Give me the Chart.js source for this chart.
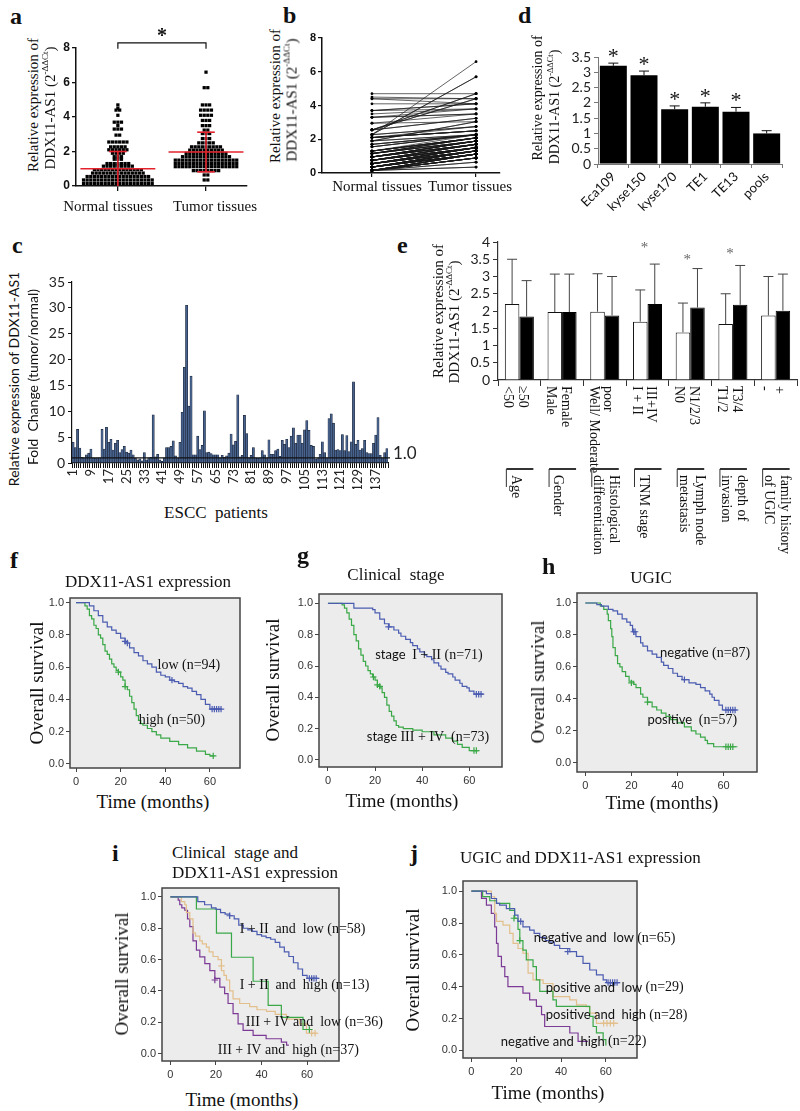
<!DOCTYPE html>
<html>
<head>
<meta charset="utf-8">
<script src="https://cdn.jsdelivr.net/npm/chart.js@4.4.1/dist/chart.umd.min.js"></script>
<style>
  body { margin: 0; background: #fff; }
  #page { position: relative; width: 800px; height: 1111px; overflow: hidden; background: #fff; }
  #page canvas { position: absolute; }
  .t { position: absolute; white-space: pre; line-height: 1; color: #111; }
  .t sup { font-size: 0.6em; line-height: 0; vertical-align: 0.75em; }
</style>
</head>
<body>
<div id="page"></div>
<script>
const SERIF = '"Liberation Serif", "Times New Roman", serif';
const ARIAL = '"Liberation Sans", Arial, sans-serif';
const CALIBRI = 'Lato, "Liberation Sans", sans-serif';

// ---- a / b : expression dot plot, rows as [value, count]
const normalRows = [[0.15,20],[0.35,20],[0.55,18],[0.75,15],[0.95,14],[1.15,9],[1.3,7],[1.55,3],[1.7,3],[1.9,4],
  [2.1,6],[2.27,5],[2.55,6],[2.95,2],[3.3,3],[3.5,1],[3.7,3],[4.1,1],[4.4,2],[4.5,1],[4.7,1]];
const tumorRows = [[0.35,2],[0.64,2],[0.89,8],[1.12,18],[1.31,18],[1.5,18],[1.7,14],[1.89,12],[2.08,10],[2.27,9],
  [2.5,5],[2.75,3],[3.04,3],[3.24,2],[3.5,3],[3.8,3],[4.1,4],[4.4,4],[4.7,3],[5.7,2],[6.6,1]];
// the same tumour values, listed in the order they join the (sorted) normal values in b
const bTumorRows = [[0.35,2],[0.64,2],[0.89,8],[1.12,18],[1.31,10],[1.31,8],[1.5,18],[1.7,14],[1.89,7],
  [1.89,5],[2.08,10],[2.27,9],[3.04,2],[2.5,5],[2.75,3],[6.6,1],[5.7,2],[4.7,2],[4.4,2],[3.24,2],
  [3.04,1],[3.5,3],[3.8,3],[4.1,4],[4.4,2],[4.7,1]];
const tissueNames = ['Normal tissues', 'Tumor tissues'];
const tissueMeans = [1.0, 1.97];
const tissueSD = [1.0, 1.15];

// ---- c : fold change per patient
const cValues = [4.0,3.0,6.5,2.9,1.1,1.0,1.6,1.9,2.7,1.0,0.9,1.0,
  1.0,6.5,2.7,6.9,4.0,4.6,2.5,3.8,4.4,2.0,2.6,3.2,
  2.1,1.9,2.5,1.6,0.9,0.6,0.8,0.4,2.0,0.6,1.0,1.1,
  9.3,1.2,1.7,0.6,0.3,1.0,3.0,3.0,3.2,4.3,1.4,1.0,
  4.0,9.8,18.5,30.5,11.0,16.8,1.6,1.6,5.2,2.6,3.4,10.1,
  2.0,2.1,1.8,1.6,1.6,1.6,1.0,1.5,1.1,1.4,1.9,5.6,
  3.5,4.2,13.2,1.2,1.5,9.2,5.7,1.0,1.5,3.0,1.0,0.9,
  1.0,2.4,1.6,1.0,4.5,1.7,1.7,2.4,2.7,1.3,4.4,3.6,
  4.6,3.0,5.2,6.8,3.8,5.4,5.4,3.8,6.4,8.2,6.3,3.4,
  3.2,0.8,1.0,1.7,4.1,2.0,1.0,8.6,9.5,7.7,2.5,2.6,
  2.4,5.5,2.4,5.3,2.2,4.1,15.7,3.6,4.4,2.5,2.8,4.4,
  2.0,1.8,1.8,3.8,5.4,8.8,1.5,1.0,2.0,2.8];
const cLabels = cValues.map((_, i) => String(i + 1));
const cBaseline = 1.0;

// ---- d : cell lines
const dCells = ['Eca109', 'kyse150', 'kyse170', 'TE1', 'TE13', 'pools'];
const dMeans = [3.21, 2.9, 1.79, 1.87, 1.71, 1.0];
const dErr = [0.09, 0.14, 0.11, 0.13, 0.14, 0.09];
const dSignif = [true, true, true, true, true, false];

// ---- e : clinical subgroups
const eGroups = ['Age', 'Gender', 'Histological\ndifferentiation', 'TNM stage', 'Lymph node\nmetastasis', 'depth of\ninvasion', 'family history\nof UGIC'];
const eLowLabels = ['<50', 'Male', 'Well/ Moderate', 'I + II', 'N0', 'T1/2', '-'];
const eHighLabels = ['\u226550', 'Female', 'poor', 'III+IV', 'N1/2/3', 'T3/4', '+'];
const eLow = [2.2, 1.97, 1.98, 1.69, 1.38, 1.62, 1.87];
const eLowSD = [1.3, 1.1, 1.1, 0.92, 0.85, 0.88, 1.13];
const eHigh = [1.84, 1.97, 1.87, 2.2, 2.1, 2.18, 2.01];
const eHighSD = [1.04, 1.1, 1.13, 1.16, 1.13, 1.14, 1.06];
const eStars = [null, null, null, 3.9, 3.55, 3.73, null];

// ---- f-j : Kaplan-Meier curves (event month, survival after it)
const monthTicks = [0, 20, 40, 60];
const survTicks = [0, 0.2, 0.4, 0.6, 0.8, 1.0];
const BLUE = '#4b5cb1', GREEN = '#3aa847', TAN = '#e2bf8b', PURPLE = '#7b3a95';

const fLow = { color: BLUE,
  t: [0,6,8,10,12,14,16,18,20,22,24,26,28,30,32,34,36,38,40,42,44,46,48,50,52,54,56,58,60,65],
  s: [1,0.98,0.95,0.92,0.88,0.85,0.83,0.81,0.78,0.75,0.72,0.69,0.67,0.64,0.62,0.6,0.57,0.55,0.54,0.52,0.51,0.5,0.48,0.47,0.45,0.43,0.4,0.37,0.34,0.34],
  cens: [[22,0.76],[23,0.75],[43,0.52],[61,0.34],[62,0.34],[63,0.34],[64,0.34],[65,0.34]] };
const fHigh = { color: GREEN,
  t: [0,4,5,6,7,8,9,10,11,12,13,14,15,16,17,18,19,20,21,22,23,24,25,26,27,28,29,30,32,34,36,38,42,46,50,54,58,60,62],
  s: [1,0.98,0.96,0.92,0.9,0.86,0.84,0.8,0.78,0.74,0.7,0.68,0.65,0.62,0.6,0.58,0.57,0.54,0.52,0.48,0.46,0.42,0.38,0.34,0.3,0.27,0.25,0.24,0.22,0.2,0.18,0.16,0.14,0.12,0.1,0.08,0.06,0.05,0.05],
  cens: [[19,0.57],[22,0.48],[61.5,0.05]] };

const gLow = { color: BLUE,
  t: [0,11,19,20,22,24,26,28,30,31,33,35,36,38,39,41,42,44,45,47,48,50,51,53,54,56,57,59,60,62,66],
  s: [1,0.97,0.96,0.94,0.9,0.87,0.85,0.83,0.81,0.79,0.77,0.75,0.73,0.71,0.69,0.67,0.66,0.64,0.62,0.6,0.58,0.56,0.55,0.53,0.51,0.49,0.47,0.46,0.44,0.42,0.42],
  cens: [[25.7,0.85],[63,0.42],[64,0.42],[65,0.42]] };
const gHigh = { color: GREEN,
  t: [0,6,7,8,9,10,11,12,13,14,15,16,17,18,19,20,21,22,23,24,25,26,27,28,29,30,32,36,40,45,50,53,55,57,60,64],
  s: [1,0.99,0.97,0.94,0.9,0.86,0.8,0.76,0.71,0.67,0.63,0.6,0.57,0.55,0.53,0.51,0.48,0.46,0.43,0.4,0.35,0.31,0.28,0.25,0.22,0.21,0.2,0.19,0.18,0.16,0.14,0.12,0.1,0.08,0.06,0.06],
  cens: [[19.3,0.53],[21,0.48],[22,0.47],[62,0.06],[63,0.06]] };

const hNeg = { color: BLUE,
  t: [0,5,7,10,12,14,16,18,19.5,20.5,22,24,25,27,29,31,33,34,36,38,40,42,45,48,50,52,54,55,56,58,59.5,66],
  s: [1,0.99,0.98,0.96,0.95,0.93,0.9,0.88,0.86,0.82,0.79,0.75,0.73,0.7,0.68,0.66,0.63,0.61,0.59,0.56,0.54,0.52,0.5,0.49,0.47,0.45,0.43,0.41,0.39,0.36,0.33,0.33],
  cens: [[21,0.82],[21.6,0.82],[43,0.52],[61,0.33],[62,0.33],[63,0.33],[64,0.33],[65,0.33]] };
const hPos = { color: GREEN,
  t: [0,6.5,8,9.5,10,11,11.5,12,13,14,15,16,17.5,19,21,22,24,25,27,29,31,33,35,37,40,43,46,48,50,52,53,55.7,66],
  s: [1,0.98,0.96,0.93,0.89,0.84,0.79,0.72,0.67,0.62,0.6,0.57,0.54,0.51,0.49,0.47,0.43,0.41,0.38,0.35,0.33,0.31,0.29,0.27,0.25,0.225,0.2,0.18,0.16,0.14,0.12,0.1,0.1],
  cens: [[20,0.5],[27,0.38],[61,0.1],[62,0.1],[63,0.1],[64,0.1]] };

const iLowEarly = { color: BLUE,
  t: [0,12,15,18,20,22,24,26,28,30,32,34,36,38,40,42,44,46,48,50,52,54,56,58,60,65],
  s: [1,0.97,0.95,0.93,0.92,0.9,0.89,0.88,0.86,0.82,0.8,0.79,0.78,0.76,0.75,0.74,0.73,0.71,0.68,0.65,0.62,0.58,0.54,0.5,0.48,0.48],
  cens: [[26,0.88],[61,0.48],[62,0.48],[63,0.48],[64,0.48]] };
const iHighEarly = { color: GREEN,
  t: [0,11.4,20.2,26.8,36.3,42.9,48.7,58.2,61],
  s: [1,0.923,0.769,0.615,0.462,0.308,0.231,0.154,0.154],
  cens: [[61,0.154]] };
const iLowLate = { color: TAN,
  t: [0,4.8,6.3,7,8.5,9.9,11,12.9,14,15.8,17,18.7,20.9,22.4,23.5,24.6,26,27.5,30.4,34.8,38,42.2,46,50.9,56.8,59.7,64.6],
  s: [1,0.97,0.95,0.9,0.86,0.77,0.75,0.72,0.7,0.68,0.65,0.62,0.6,0.53,0.5,0.47,0.4,0.35,0.32,0.3,0.28,0.27,0.25,0.22,0.19,0.13,0.13],
  cens: [[22.4,0.56],[62,0.13],[63.5,0.13]] };
const iHighLate = { color: PURPLE,
  t: [0,3.4,4.1,5,6.3,7.5,8.5,9.9,11.4,12.9,15.1,17.3,19.5,21.7,23.8,25.3,27.5,29.7,31.9,36.3,42,48.7,51,52],
  s: [1,0.98,0.95,0.93,0.915,0.86,0.81,0.72,0.66,0.617,0.574,0.53,0.48,0.425,0.383,0.32,0.255,0.19,0.149,0.117,0.095,0.074,0.054,0.054],
  cens: [[19.5,0.47]] };

const jNegLow = { color: BLUE,
  t: [0,6.7,8.9,11.2,12.6,15.6,19.3,20.8,23,26,28,30.5,33,35,37,39.4,43.9,46.9,49.8,52.8,55.8,58.8,60.3,66.2],
  s: [1,0.985,0.954,0.923,0.912,0.89,0.85,0.81,0.776,0.755,0.735,0.71,0.69,0.68,0.66,0.64,0.62,0.59,0.547,0.505,0.474,0.443,0.426,0.426],
  cens: [[22,0.81],[43,0.62],[61,0.426],[62,0.426],[63,0.426],[64,0.426],[65,0.426]] };
const jPosLow = { color: GREEN,
  t: [0,5,8.2,11.2,17.1,19.3,20.8,21.6,23,24.5,27.5,29,30.5,36.4,37.9,52.8,54.3,55.8,58.8,60],
  s: [1,0.966,0.94,0.923,0.88,0.83,0.76,0.69,0.63,0.568,0.526,0.443,0.37,0.317,0.276,0.213,0.15,0.11,0.067,0.03],
  cens: [[19,0.83],[21.6,0.69]] };
const jPosHigh = { color: TAN,
  t: [0,8.9,10.4,11.2,14.1,17.1,18.6,20.8,23,25.3,27.5,32,36.4,43.9,46.9,51.3,52.8,55.8,65.5],
  s: [1,0.965,0.86,0.81,0.787,0.735,0.672,0.64,0.61,0.485,0.443,0.42,0.338,0.317,0.286,0.275,0.234,0.17,0.17],
  cens: [[59,0.17],[60.5,0.17],[62,0.17],[63.5,0.17]] };
const jNegHigh = { color: PURPLE,
  t: [0,4.5,6.7,8.9,10.4,11.2,11.9,13.4,14.9,16.3,23,26,29,31.3,32.7,43.9,47.6,52],
  s: [1,0.955,0.912,0.86,0.776,0.672,0.59,0.526,0.463,0.4,0.36,0.317,0.276,0.224,0.15,0.109,0.056,0.056],
  cens: [] };

// curve labels, anchored in data units
const fNotes = [
  { m: 50.6, v: 0.614, align: 'center', parts: [['low (n=94)', 'serif']] },
  { m: 43, v: 0.27, align: 'center', parts: [['high (n=50)', 'serif']] },
];
const gNotes = [
  { m: 42.9, v: 0.67, align: 'center', parts: [['stage  ', 'sans'], ['I + II (n=71)', 'serif']] },
  { m: 42.5, v: 0.145, align: 'center', parts: [['stage ', 'sans'], ['III + IV  (n=73)', 'serif']] },
];
const hNotes = [
  { m: 52, v: 0.686, align: 'center', parts: [['negative ', 'sans'], ['(n=87)', 'serif']] },
  { m: 46.4, v: 0.267, align: 'center', parts: [['positive  ', 'sans'], ['(n=57)', 'serif']] },
];
const iNotes = [
  { m: 30.4, v: 0.793, parts: [['I + II  and  low (n=58)', 'serif']] },
  { m: 30.4, v: 0.436, parts: [['I + II  and  high (n=13)', 'serif']] },
  { m: 33.1, v: 0.2, parts: [['III + IV and  low (n=36)', 'serif']] },
  { m: 20.8, v: 0.021, parts: [['III + IV and  high (n=37)', 'serif']] },
];
const jNotes = [
  { m: 27.8, v: 0.706, parts: [['negative and  low ', 'sans'], ['(n=65)', 'serif']] },
  { m: 33.2, v: 0.393, parts: [['positive and  low ', 'sans'], ['(n=29)', 'serif']] },
  { m: 33.2, v: 0.223, parts: [['positive and  high ', 'sans'], ['(n=28)', 'serif']] },
  { m: 13.1, v: 0.054, parts: [['negative and  high ', 'sans'], ['(n=22)', 'serif']] },
];

// ------------------------------------------------------------------
const page = document.getElementById('page');
Chart.defaults.animation = false;
Chart.defaults.responsive = false;
Chart.defaults.devicePixelRatio = 1;
Chart.defaults.font.family = SERIF;
Chart.defaults.color = '#111';
Chart.defaults.plugins.legend.display = false;
Chart.defaults.plugins.tooltip.enabled = false;

function addText(html, x, y, o = {}) {
  const el = document.createElement('div');
  const size = o.size || 15;
  el.className = 't';
  el.innerHTML = html;
  el.style.font = `${o.weight || 'normal'} ${size}px ${o.family || SERIF}`;
  el.style.left = x + 'px';
  if (o.base) {
    el.style.top = (y - 0.84 * size) + 'px';
  } else {
    el.style.top = y + 'px';
    const ax = o.align === 'left' ? '0' : '-50%';
    el.style.transform = `translate(${ax}, -50%)` + (o.rot ? ` rotate(${o.rot}deg)` : '');
  }
  page.appendChild(el);
}

// canvas whose chart area is exactly the box l,t,r,b; pad = [left, top, right, bottom]
function panel(l, t, r, b, pad) {
  l = Math.round(l); t = Math.round(t); r = Math.round(r); b = Math.round(b);
  const c = document.createElement('canvas');
  const w = r - l + pad[0] + pad[2], h = b - t + pad[1] + pad[3];
  c.width = w; c.height = h;
  c.style.left = (l - pad[0]) + 'px';
  c.style.top = (t - pad[1]) + 'px';
  c.style.width = w + 'px';
  c.style.height = h + 'px';
  page.appendChild(c);
  return { canvas: c, layout: { padding: { left: 0, top: pad[1], right: pad[2], bottom: 0 } }, pad };
}
const fixX = h => s => { s.height = h; s.paddingLeft = s.paddingRight = s.paddingTop = s.paddingBottom = 0; };
const fixY = w => s => { s.width = w; s.paddingLeft = s.paddingRight = s.paddingTop = s.paddingBottom = 0; };
const setTicks = vals => s => { s.ticks = vals.map(v => ({ value: v })); };
const expand = rows => rows.flatMap(([v, n]) => Array(n).fill(v));
const plainNum = v => String(+v.toFixed(2));

function swarm(rows, cx, pitch) {
  const pts = [];
  rows.forEach(([v, n]) => {
    for (let i = 0; i < n; i++) pts.push({ x: cx + (i - (n - 1) / 2) * pitch, y: v });
  });
  return pts;
}

function drawLine(ctx, x1, y1, x2, y2) {
  ctx.beginPath(); ctx.moveTo(x1, y1); ctx.lineTo(x2, y2); ctx.stroke();
}

function star(ctx, x, y, size, color, bold) {
  ctx.save();
  ctx.fillStyle = color;
  ctx.font = `${bold ? 'bold ' : ''}${size}px ${SERIF}`;
  ctx.textAlign = 'center';
  ctx.textBaseline = 'middle';
  ctx.fillText('*', x, y + 0.18 * size);
  ctx.restore();
}

// ---------------- a ----------------
const aCenters = [1, 3];
const aBox = panel(76, 48, 247, 186, [32, 24, 6, 12]);
const aMarks = {
  id: 'aMarks',
  afterDatasetsDraw(chart) {
    const { ctx, scales: { x, y } } = chart;
    ctx.save();
    ctx.strokeStyle = '#e4222c';
    ctx.lineWidth = 1.6;
    aCenters.forEach((c, i) => {
      const m = tissueMeans[i], sd = tissueSD[i];
      const px = x.getPixelForValue(c);
      drawLine(ctx, x.getPixelForValue(c - 0.85), y.getPixelForValue(m), x.getPixelForValue(c + 0.85), y.getPixelForValue(m));
      const lo = Math.max(m - sd, 0);
      drawLine(ctx, px, y.getPixelForValue(lo), px, y.getPixelForValue(m + sd));
      drawLine(ctx, x.getPixelForValue(c - 0.2), y.getPixelForValue(m + sd), x.getPixelForValue(c + 0.2), y.getPixelForValue(m + sd));
      if (m - sd > 0) drawLine(ctx, x.getPixelForValue(c - 0.2), y.getPixelForValue(lo), x.getPixelForValue(c + 0.2), y.getPixelForValue(lo));
    });
    // significance bracket
    ctx.strokeStyle = '#111';
    ctx.lineWidth = 1.2;
    const yb = y.getPixelForValue(8.3), yt = y.getPixelForValue(7.95);
    const x1 = x.getPixelForValue(aCenters[0]), x2 = x.getPixelForValue(aCenters[1]);
    ctx.beginPath();
    ctx.moveTo(x1, yt); ctx.lineTo(x1, yb); ctx.lineTo(x2, yb); ctx.lineTo(x2, yt);
    ctx.stroke();
    ctx.restore();
    star(ctx, (x1 + x2) / 2, yb - 10, 20, '#111', true);
  }
};
new Chart(aBox.canvas, {
  type: 'scatter',
  data: {
    datasets: [normalRows, tumorRows].map((rows, i) => ({
      data: swarm(rows, aCenters[i], 0.082),
      pointStyle: 'rect', pointRadius: 2.3, backgroundColor: '#000', borderColor: '#000', borderWidth: 0,
    })),
  },
  options: {
    layout: aBox.layout,
    scales: {
      x: {
        type: 'linear', min: 0.05, max: 3.93,
        afterBuildTicks: setTicks(aCenters),
        afterFit: fixX(12),
        ticks: { display: false },
        grid: { drawOnChartArea: false, tickLength: 5, color: '#111', lineWidth: 1.3 },
        border: { color: '#111', width: 1.5 },
      },
      y: {
        min: 0, max: 8,
        afterFit: fixY(32),
        ticks: { stepSize: 2, font: { family: ARIAL, size: 12, weight: 'bold' }, color: '#111', padding: 2 },
        grid: { drawOnChartArea: false, tickLength: 4, color: '#111', lineWidth: 1.3 },
        border: { color: '#111', width: 1.5 },
      },
    },
  },
  plugins: [aMarks],
});

// ---------------- b ----------------
const bLeft = expand(normalRows), bRight = expand(bTumorRows);
const bData = bLeft.flatMap((v, i) => [{ x: 0, y: v }, { x: 1, y: bRight[i] }, { x: 0.5, y: null }]);
const bBox = panel(322, 38, 500, 173, [34, 6, 4, 10]);
new Chart(bBox.canvas, {
  type: 'line',
  data: {
    datasets: [{
      data: bData, spanGaps: false,
      borderColor: 'rgba(25,25,25,0.85)', borderWidth: 0.8,
      pointRadius: 1.4, pointBackgroundColor: '#000', pointBorderWidth: 0,
    }],
  },
  options: {
    layout: bBox.layout,
    scales: {
      x: {
        type: 'linear', min: -0.48, max: 1.23,
        afterBuildTicks: setTicks([0, 1]),
        afterFit: fixX(10),
        ticks: { display: false },
        grid: { drawOnChartArea: false, tickLength: 4, color: '#111', lineWidth: 1.2 },
        border: { color: '#111', width: 1.5 },
      },
      y: {
        min: 0, max: 8,
        afterFit: fixY(34),
        ticks: { stepSize: 2, font: { family: ARIAL, size: 11, weight: 'bold' }, color: '#111', padding: 2 },
        grid: { drawOnChartArea: false, tickLength: 4, color: '#111', lineWidth: 1.2 },
        border: { color: '#111', width: 1.5 },
      },
    },
  },
});

// ---------------- d ----------------
const dBox = panel(598, 57, 782, 164, [62, 30, 8, 52]);
const dExtras = {
  id: 'dExtras',
  afterDatasetsDraw(chart) {
    const { ctx, scales: { y } } = chart;
    ctx.save();
    ctx.strokeStyle = '#111';
    ctx.lineWidth = 1;
    chart.getDatasetMeta(0).data.forEach((bar, i) => {
      const top = y.getPixelForValue(dMeans[i] + dErr[i]);
      drawLine(ctx, bar.x, bar.y, bar.x, top);
      drawLine(ctx, bar.x - 5, top, bar.x + 5, top);
      if (dSignif[i]) star(ctx, bar.x, top - 10, 22, '#111', false);
    });
    ctx.restore();
  }
};
new Chart(dBox.canvas, {
  type: 'bar',
  data: { labels: dCells, datasets: [{ data: dMeans, backgroundColor: '#000', barPercentage: 0.88, categoryPercentage: 1 }] },
  options: {
    layout: dBox.layout,
    scales: {
      x: {
        afterFit: fixX(52),
        ticks: { minRotation: 45, maxRotation: 45, font: { family: CALIBRI, size: 13 }, color: '#111', padding: 1 },
        grid: { offset: true, drawOnChartArea: false, tickLength: 4, color: '#777' },
        border: { color: '#777' },
      },
      y: {
        min: 0, max: 3.5,
        afterFit: fixY(62),
        ticks: { stepSize: 0.5, autoSkip: false, callback: plainNum, font: { family: CALIBRI, size: 14 }, color: '#222', padding: 3 },
        grid: { drawOnChartArea: false, tickLength: 4, color: '#777' },
        border: { color: '#777' },
      },
    },
  },
  plugins: [dExtras],
});

// ---------------- c ----------------
const cBox = panel(72, 282, 388, 463, [40, 6, 34, 26]);
const cLine = {
  id: 'cLine',
  afterDatasetsDraw(chart) {
    const { ctx, chartArea, scales: { y } } = chart;
    const py = y.getPixelForValue(cBaseline);
    ctx.save();
    ctx.strokeStyle = '#111';
    ctx.lineWidth = 1.2;
    drawLine(ctx, chartArea.left, py, chartArea.right + 2, py);
    ctx.fillStyle = '#222';
    ctx.font = `17px ${CALIBRI}`;
    ctx.textBaseline = 'middle';
    ctx.fillText(cBaseline.toFixed(1), chartArea.right + 5, py - 4);
    ctx.restore();
  }
};
new Chart(cBox.canvas, {
  type: 'bar',
  data: {
    labels: cLabels,
    datasets: [{ data: cValues, backgroundColor: '#46628d', borderColor: '#1c2538', borderWidth: 0.6, barPercentage: 1, categoryPercentage: 1 }],
  },
  options: {
    layout: cBox.layout,
    scales: {
      x: {
        afterFit: fixX(26),
        ticks: { autoSkip: false, minRotation: 90, maxRotation: 90, callback: (v, i) => (i % 8 === 0 ? cLabels[i] : ''), font: { family: CALIBRI, size: 13 }, color: '#222', padding: 1 },
        grid: { offset: true, drawOnChartArea: false, tickLength: 5, color: '#111' },
        border: { color: '#111', width: 1.2 },
      },
      y: {
        min: 0, max: 35,
        afterFit: fixY(40),
        ticks: { stepSize: 5, autoSkip: false, font: { family: CALIBRI, size: 14 }, color: '#222', padding: 3 },
        grid: { drawOnChartArea: false, tickLength: 4, color: '#111' },
        border: { color: '#111', width: 1.2 },
      },
    },
  },
  plugins: [cLine],
});

// ---------------- e ----------------
const eBox = panel(498, 242, 797, 380, [60, 10, 3, 185]);
const eExtras = {
  id: 'eExtras',
  afterDatasetsDraw(chart) {
    const { ctx, chartArea, scales: { x, y } } = chart;
    ctx.save();
    ctx.strokeStyle = '#444';
    ctx.lineWidth = 1;
    [[eLow, eLowSD], [eHigh, eHighSD]].forEach(([vals, sds], di) => {
      chart.getDatasetMeta(di).data.forEach((bar, i) => {
        const top = y.getPixelForValue(vals[i] + sds[i]);
        drawLine(ctx, bar.x, bar.y, bar.x, top);
        drawLine(ctx, bar.x - 5, top, bar.x + 5, top);
      });
    });
    ctx.restore();
    eStars.forEach((v, i) => { if (v != null) star(ctx, x.getPixelForValue(i) - 3, y.getPixelForValue(v), 15, '#666', false); });

    // subgroup labels, read top to bottom
    ctx.save();
    ctx.fillStyle = '#111';
    ctx.font = `14px ${SERIF}`;
    ctx.textAlign = 'left';
    ctx.textBaseline = 'middle';
    const vtext = (txt, px, py) => { ctx.save(); ctx.translate(px, py); ctx.rotate(Math.PI / 2); ctx.fillText(txt, 0, 0); ctx.restore(); };
    [eLowLabels, eHighLabels].forEach((labels, di) => {
      chart.getDatasetMeta(di).data.forEach((bar, i) => vtext(labels[i], bar.x - 4, chartArea.bottom + 6));
    });
    // group rules and names
    const gy = chartArea.bottom + 89;
    ctx.strokeStyle = '#333';
    eGroups.forEach((name, i) => {
      const cx = x.getPixelForValue(i);
      ctx.lineWidth = 2;
      drawLine(ctx, cx - 13, gy, cx + 14, gy);
      ctx.lineWidth = 1;
      drawLine(ctx, cx - 13, gy, cx - 13, gy + 18);
      const lines = name.split('\n');
      lines.forEach((ln, k) => {
        const lx = lines.length === 1 ? cx - 4 : cx + 1 + ((lines.length - 1) / 2 - k) * 16;
        vtext(ln, lx, gy + 6);
      });
    });
    ctx.restore();
  }
};
new Chart(eBox.canvas, {
  type: 'bar',
  data: {
    labels: eGroups,
    datasets: [
      { data: eLow, backgroundColor: '#fff', borderColor: '#111', borderWidth: 1, barPercentage: 1, categoryPercentage: 0.68 },
      { data: eHigh, backgroundColor: '#000', borderColor: '#000', borderWidth: 1, barPercentage: 1, categoryPercentage: 0.68 },
    ],
  },
  options: {
    layout: eBox.layout,
    scales: {
      x: {
        afterFit: fixX(185),
        ticks: { display: false },
        grid: { offset: true, drawOnChartArea: false, tickLength: 6, color: '#333' },
        border: { color: '#333', width: 1.2 },
      },
      y: {
        min: 0, max: 4,
        afterFit: fixY(60),
        ticks: { stepSize: 0.5, autoSkip: false, callback: plainNum, font: { family: CALIBRI, size: 14 }, color: '#222', padding: 3 },
        grid: { drawOnChartArea: false, tickLength: 5, color: '#333' },
        border: { color: '#333', width: 1.2 },
      },
    },
  },
  plugins: [eExtras],
});

// ---------------- Kaplan-Meier panels ----------------
const kmFrame = {
  id: 'kmFrame',
  beforeDraw(chart) {
    const { ctx, chartArea: a } = chart;
    ctx.save();
    ctx.fillStyle = '#ececec';
    ctx.fillRect(a.left, a.top, a.width, a.height);
    ctx.restore();
  },
  afterDraw(chart) {
    const { ctx, chartArea: a } = chart;
    ctx.save();
    ctx.strokeStyle = '#444';
    ctx.lineWidth = 1.5;
    ctx.strokeRect(a.left, a.top, a.width, a.height);
    ctx.restore();
  }
};
function kmNotes(notes) {
  return {
    id: 'kmNotes',
    afterDraw(chart) {
      const { ctx, scales: { x, y } } = chart;
      ctx.save();
      ctx.fillStyle = '#111';
      ctx.textBaseline = 'middle';
      ctx.textAlign = 'left';
      notes.forEach(n => {
        const fonts = n.parts.map(([, fam]) => fam === 'sans' ? `13px ${CALIBRI}` : `14px ${SERIF}`);
        let w = 0;
        n.parts.forEach(([txt], k) => { ctx.font = fonts[k]; w += ctx.measureText(txt).width; });
        let px = x.getPixelForValue(n.m) - (n.align === 'center' ? w / 2 : 0);
        const py = y.getPixelForValue(n.v);
        n.parts.forEach(([txt], k) => { ctx.font = fonts[k]; ctx.fillText(txt, px, py); px += ctx.measureText(txt).width; });
      });
      ctx.restore();
    }
  };
}
function kmChart(box, xr, yr, curves, notes) {
  const p = panel(box[0], box[1], box[2], box[3], [34, 8, 160, 22]);
  const datasets = [];
  curves.forEach(c => {
    datasets.push({
      type: 'line', data: c.t.map((t, i) => ({ x: t, y: c.s[i] })), stepped: true,
      borderColor: c.color, borderWidth: 1.2, pointRadius: 0, fill: false,
    });
    datasets.push({
      type: 'scatter', data: c.cens.map(([t, s]) => ({ x: t, y: s })),
      pointStyle: 'cross', pointRadius: 3.2, borderColor: c.color, borderWidth: 1.2,
    });
  });
  new Chart(p.canvas, {
    type: 'scatter',
    data: { datasets },
    options: {
      layout: p.layout,
      scales: {
        x: {
          type: 'linear', min: xr[0], max: xr[1],
          afterBuildTicks: setTicks(monthTicks),
          afterFit: fixX(22),
          ticks: { font: { family: ARIAL, size: 11 }, color: '#333', padding: 3 },
          grid: { drawOnChartArea: false, tickLength: 4, color: '#444' },
          border: { display: false },
        },
        y: {
          min: yr[0], max: yr[1],
          afterBuildTicks: setTicks(survTicks),
          afterFit: fixY(34),
          ticks: { callback: v => v.toFixed(1), font: { family: ARIAL, size: 11 }, color: '#333', padding: 2 },
          grid: { drawOnChartArea: false, tickLength: 4, color: '#444' },
          border: { display: false },
        },
      },
    },
    plugins: [kmFrame, kmNotes(notes)],
  });
}
kmChart([70, 598, 240, 768], [-2.7, 73.5], [-0.025, 1.029], [fLow, fHigh], fNotes);
kmChart([319, 594, 502, 767], [-3.8, 73.9], [-0.045, 1.06], [gLow, gHigh], gNotes);
kmChart([577, 593, 757, 772], [-3.6, 74.5], [-0.058, 1.0625], [hNeg, hPos], hNotes);
kmChart([162, 888, 339, 1061], [-3.7, 74], [-0.047, 1.057], [iLowEarly, iHighEarly, iLowLate, iHighLate], iNotes);
kmChart([463, 881, 637, 1058], [-3.75, 73.9], [-0.048, 1.064], [jNegLow, jPosLow, jPosHigh, jNegHigh], jNotes);

// ---------------- text ----------------
[['a', 10, 23], ['b', 283, 22], ['d', 518, 22], ['c', 12, 252], ['e', 397, 252],
 ['f', 10, 567], ['g', 297, 562], ['h', 542, 573], ['i', 112, 860], ['j', 410, 860]]
  .forEach(([s, x, y]) => addText(s, x, y, { size: 24, weight: 'bold', base: true }));

// category names under the dot plots
addText(tissueNames[0], 108, 206, { size: 15 });
addText(tissueNames[1], 215, 206, { size: 15 });
addText(tissueNames[0], 377, 186, { size: 15 });
addText(tissueNames[1], 470, 186, { size: 15 });

const ddx = 'DDX11-AS1 (2<sup>-\u0394\u0394Ct</sup>)';
addText('Relative expression of', 33, 105, { rot: -90, size: 15 });
addText(ddx, 50, 108, { rot: -90, size: 15 });
addText('Relative expression of', 275, 96, { rot: -90, size: 15 });
addText(ddx, 292, 100, { rot: -90, size: 15 });
addText('Relative expression of', 538, 98, { rot: -90, size: 14 });
addText(ddx, 555, 107, { rot: -90, size: 14 });
addText('Relative expression of', 438, 311, { rot: -90, size: 15 });
addText(ddx, 454, 322, { rot: -90, size: 15 });
addText('Relative expression of DDX11-AS1', 13, 379, { rot: -90, size: 14, family: CALIBRI });
addText('Fold  Change (tumor/normal)', 32, 377, { rot: -90, size: 14, family: CALIBRI });
addText('ESCC  patients', 216, 513, { size: 17 });

addText('DDX11-AS1 expression', 148, 582, { size: 17 });
addText('Clinical  stage', 396, 575, { size: 17 });
addText('UGIC', 651, 578, { size: 17 });
addText('Clinical  stage and', 172, 853, { size: 17, align: 'left' });
addText('DDX11-AS1 expression', 172, 873, { size: 17, align: 'left' });
addText('UGIC and DDX11-AS1 expression', 460, 858, { size: 17, align: 'left' });

[[37, 683], [273, 680], [538, 682], [122, 974], [413, 970]]
  .forEach(([x, y]) => addText('Overall survival', x, y, { rot: -90, size: 19 }));
[[153, 802], [402, 801], [662, 803], [242, 1100], [548, 1093]]
  .forEach(([x, y]) => addText('Time (months)', x, y, { size: 19 }));
</script>
</body>
</html>
